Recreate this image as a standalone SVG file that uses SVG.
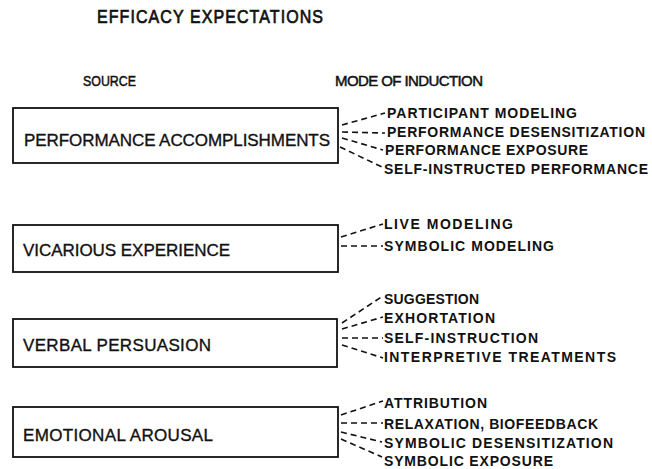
<svg xmlns="http://www.w3.org/2000/svg" width="652" height="469" viewBox="0 0 652 469">
<style>
.box{fill:#fff;stroke:#111;stroke-width:1.8}
.src{font-family:"Liberation Sans",Arial,sans-serif;font-size:17px;fill:#111;stroke:#111;stroke-width:0.35}
.mode{font-family:"Liberation Sans",Arial,sans-serif;font-size:14px;font-weight:bold;fill:#111}
.hdr{font-family:"Liberation Sans",Arial,sans-serif;font-size:15px;fill:#111;stroke:#111;stroke-width:0.5}
.ttl{font-family:"Liberation Sans",Arial,sans-serif;font-size:16px;fill:#111;stroke:#111;stroke-width:0.6}
.dl{stroke:#111;stroke-width:1.6;stroke-dasharray:6 4;fill:none}
</style>
<rect width="652" height="469" fill="#fff"/>
<g transform="translate(97,23) scale(1,1.2)">
<text class="ttl" x="0" y="0" textLength="226" lengthAdjust="spacing">EFFICACY EXPECTATIONS</text>
</g>
<text class="hdr" x="83" y="86" textLength="53" lengthAdjust="spacingAndGlyphs">SOURCE</text>
<text class="hdr" x="335" y="86" textLength="148" lengthAdjust="spacing">MODE OF INDUCTION</text>

<g id="performance">
<rect class="box" x="13" y="108" width="325" height="55"/>
<text class="src" x="24" y="146" textLength="306" lengthAdjust="spacing">PERFORMANCE ACCOMPLISHMENTS</text>
</g>
<g id="vicarious">
<rect class="box" x="13" y="225" width="325" height="47"/>
<text class="src" x="23" y="256" textLength="207" lengthAdjust="spacing">VICARIOUS EXPERIENCE</text>
</g>
<g id="verbal">
<rect class="box" x="13" y="319" width="324" height="48"/>
<text class="src" x="23" y="351" textLength="188" lengthAdjust="spacing">VERBAL PERSUASION</text>
</g>
<g id="emotional">
<rect class="box" x="13" y="407" width="325" height="50"/>
<text class="src" x="23" y="441" textLength="190" lengthAdjust="spacing">EMOTIONAL AROUSAL</text>
</g>

<g id="modes">
<text class="mode" x="387" y="118" textLength="190" lengthAdjust="spacing">PARTICIPANT MODELING</text>
<text class="mode" x="387" y="137" textLength="258" lengthAdjust="spacing">PERFORMANCE DESENSITIZATION</text>
<text class="mode" x="385" y="155" textLength="203" lengthAdjust="spacing">PERFORMANCE EXPOSURE</text>
<text class="mode" x="384" y="174" textLength="264" lengthAdjust="spacing">SELF-INSTRUCTED PERFORMANCE</text>

<text class="mode" x="384" y="229" textLength="129" lengthAdjust="spacing">LIVE MODELING</text>
<text class="mode" x="384" y="251" textLength="170" lengthAdjust="spacing">SYMBOLIC MODELING</text>

<text class="mode" x="384" y="304" textLength="95" lengthAdjust="spacing">SUGGESTION</text>
<text class="mode" x="384" y="323" textLength="111" lengthAdjust="spacing">EXHORTATION</text>
<text class="mode" x="384" y="343" textLength="154" lengthAdjust="spacing">SELF-INSTRUCTION</text>
<text class="mode" x="384" y="362" textLength="232" lengthAdjust="spacing">INTERPRETIVE TREATMENTS</text>

<text class="mode" x="384" y="408" textLength="103" lengthAdjust="spacing">ATTRIBUTION</text>
<text class="mode" x="384" y="429" textLength="214" lengthAdjust="spacing">RELAXATION, BIOFEEDBACK</text>
<text class="mode" x="384" y="448" textLength="229" lengthAdjust="spacing">SYMBOLIC DESENSITIZATION</text>
<text class="mode" x="384" y="466" textLength="169" lengthAdjust="spacing">SYMBOLIC EXPOSURE</text>
</g>

<g id="connectors">
<line class="dl" x1="342" y1="125" x2="385" y2="113"/>
<line class="dl" x1="342" y1="132" x2="385" y2="133"/>
<line class="dl" x1="342" y1="138" x2="383" y2="150"/>
<line class="dl" x1="340" y1="147" x2="382" y2="167"/>

<line class="dl" x1="341" y1="237" x2="383" y2="224"/>
<line class="dl" x1="341" y1="246" x2="383" y2="246"/>

<line class="dl" x1="342" y1="323" x2="383" y2="296"/>
<line class="dl" x1="342" y1="329" x2="383" y2="317"/>
<line class="dl" x1="342" y1="338" x2="383" y2="338"/>
<line class="dl" x1="342" y1="345" x2="383" y2="358"/>

<line class="dl" x1="341" y1="415" x2="383" y2="401"/>
<line class="dl" x1="341" y1="423" x2="383" y2="423"/>
<line class="dl" x1="341" y1="432" x2="382" y2="442"/>
<line class="dl" x1="341" y1="439" x2="382" y2="457"/>
</g>
</svg>
